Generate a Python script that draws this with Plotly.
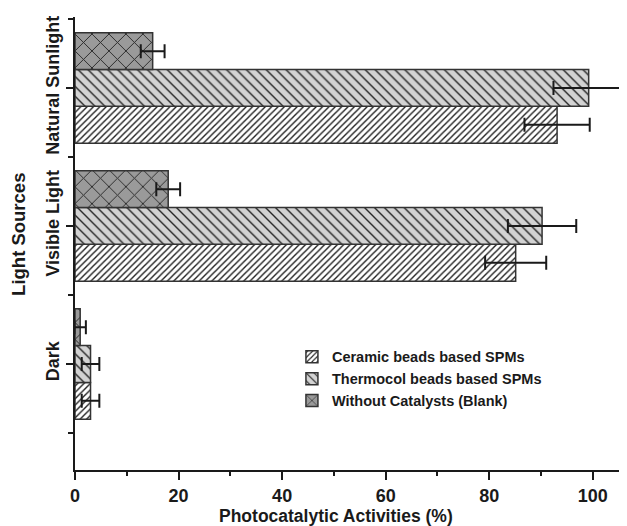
import plotly.graph_objects as go

categories = ["Dark", "Visible Light", "Natural Sunlight"]
cat_pos = [0, 1, 2]
series_names = ["Ceramic beads based SPMs", "Thermocol beads based SPMs", "Without Catalysts (Blank)"]
ceramic = [3.0, 85.1, 93.1]
ceramic_err = [1.7, 5.9, 6.3]
thermocol = [3.0, 90.2, 99.2]
thermocol_err = [1.7, 6.6, 6.8]
blank = [1.0, 18.0, 15.0]
blank_err = [1.1, 2.3, 2.3]
x_ticks = [0, 20, 40, 60, 80, 100]

FONT = "Liberation Sans, Arial, sans-serif"

styles = [
    dict(bg="#ffffff", fg="#1a1a1a", shape="/", size=4.5, solidity=0.3),
    dict(bg="#d3d3d3", fg="#262626", shape="\\", size=7, solidity=0.2),
    dict(bg="#9a9a9a", fg="#262626", shape="x", size=12, solidity=0.15),
]

fig = go.Figure()
for name, vals, errs, st in zip(series_names, [ceramic, thermocol, blank],
                                [ceramic_err, thermocol_err, blank_err], styles):
    fig.add_trace(go.Bar(
        name=name, y=cat_pos, x=vals, orientation="h",
        marker=dict(color=st["bg"],
                    line=dict(color="#333333", width=1.5),
                    pattern=dict(shape=st["shape"], bgcolor=st["bg"], fgcolor=st["fg"],
                                 size=st["size"], solidity=st["solidity"], fillmode="replace")),
        error_x=dict(type="data", array=errs, symmetric=True, color="#1a1a1a",
                     thickness=2, width=7),
    ))

# page body has an 8px default margin: figure is sized to fit the window after it
fig.update_layout(
    width=619, height=518,
    margin=dict(l=67, r=0, t=9, b=56, autoexpand=False),
    barmode="group", bargap=0.2, bargroupgap=0,
    plot_bgcolor="white", paper_bgcolor="white",
    font=dict(family=FONT, size=14, color="#1a1a1a", weight="bold"),
    showlegend=True,
    legend=dict(x=0.393, y=0.285, xanchor="left", yanchor="top",
                bgcolor="rgba(0,0,0,0)", font=dict(family=FONT, size=14.5, weight="bold"),
                tracegroupgap=0),
    xaxis=dict(range=[0, 106.6], tickmode="array", tickvals=x_ticks, automargin=False,
               ticks="outside", ticklen=8, tickwidth=1.5, tickcolor="#1a1a1a",
               showline=True, linecolor="#1a1a1a", linewidth=2,
               showgrid=False, zeroline=False,
               tickfont=dict(family=FONT, size=18, weight="bold"),
               minor=dict(dtick=10, tick0=0, ticks="outside", ticklen=4, tickwidth=1.5,
                          tickcolor="#1a1a1a", showgrid=False)),
    yaxis=dict(range=[-0.768, 2.514], tickmode="array", tickvals=cat_pos, ticktext=categories,
               automargin=False,
               tickangle=-90, ticks="outside", ticklen=7, tickwidth=1.5, tickcolor="#1a1a1a",
               showline=True, linecolor="#1a1a1a", linewidth=2,
               showgrid=False, zeroline=False,
               tickfont=dict(family=FONT, size=18, weight="bold"),
               minor=dict(tickmode="array", tickvals=[-0.5, 0.5, 1.5, 2.5], ticks="outside",
                          ticklen=5, tickwidth=1.5, tickcolor="#1a1a1a", showgrid=False)),
    annotations=[
        dict(text="Photocatalytic Activities (%)", xref="paper", yref="paper",
             x=0.473, y=-0.075, xanchor="center", yanchor="top", showarrow=False,
             font=dict(family=FONT, size=17.5, weight="bold")),
        dict(text="Light Sources", xref="paper", yref="paper", textangle=-90,
             x=-0.1024, y=0.52, xanchor="center", yanchor="middle", showarrow=False,
             font=dict(family=FONT, size=18.5, weight="bold")),
    ],
)

fig.write_html("out.html")
